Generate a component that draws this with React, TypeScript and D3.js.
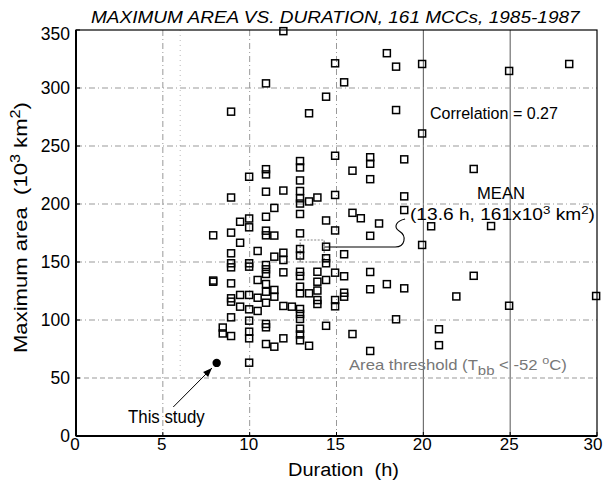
import React, { useLayoutEffect, useRef, useState } from "react";
import * as d3 from "d3";

// ---- data ----
const durationH: number[] = [
  7.9, 7.9, 7.9,
  8.45, 8.45,
  8.93, 8.93, 8.93, 8.93, 8.93, 8.93, 8.93, 8.93, 8.93, 8.93, 8.93,
  9.45, 9.45, 9.45, 9.45,
  9.97, 9.97, 9.97, 9.97, 9.97, 9.97, 9.97, 9.97, 9.97, 9.97, 9.97,
  10.46, 10.46, 10.46, 10.46,
  10.94, 10.94, 10.94, 10.94, 10.94, 10.94, 10.94, 10.94, 10.94, 10.94, 10.94, 10.94, 10.94, 10.94, 10.94, 10.94,
  11.42, 11.42, 11.42, 11.42, 11.42, 11.42,
  11.94, 11.94, 11.94, 11.94, 11.94, 11.94, 11.94,
  12.43,
  12.9, 12.9, 12.9, 12.9, 12.9, 12.9, 12.9, 12.9, 12.9, 12.9, 12.9, 12.9, 12.9, 12.9, 12.9, 12.9, 12.9, 12.9, 12.9, 12.9,
  13.42, 13.42, 13.42, 13.42,
  13.9, 13.9, 13.9, 13.9, 13.9, 13.9,
  14.4, 14.4, 14.4, 14.4, 14.4, 14.4, 14.4,
  14.92, 14.92, 14.92, 14.92, 14.92, 14.92, 14.92,
  15.44, 15.44, 15.44, 15.44, 15.44,
  15.92, 15.92, 15.92,
  16.4,
  16.94, 16.94, 16.94, 16.94, 16.94, 16.94, 16.94,
  17.45,
  17.9, 17.9,
  18.43, 18.43, 18.43,
  18.9, 18.9, 18.9, 18.9,
  19.93, 19.93, 19.93,
  20.45,
  20.9, 20.9,
  21.9,
  22.9, 22.9,
  23.9,
  24.94, 24.94,
  28.4,
  29.95,
];

const maxArea: number[] = [
  173, 134, 133,
  93.5, 88.4,
  279.6, 205.6, 175.3, 157.5, 148.9, 145.4, 131.6, 118.7, 115.8, 102.3, 86.2,
  184.7, 166.6, 121.6, 111.5,
  223.5, 187.5, 179.9, 148.9, 146, 121.6, 109.2, 99.4, 89.9, 84.2, 63.2,
  159.5, 134.5, 119.2, 107.8,
  304, 230, 225.5, 210.6, 189, 177, 173, 147.4, 143.7, 139.7, 131, 124.4, 114.9, 96.6, 93.7, 79.3,
  196.6, 172.8, 154.6, 125.9, 120.1, 77,
  349, 211.6, 158, 151.7, 141.1, 112.1, 84.2,
  111.5,
  237, 231.5, 220.3, 211.2, 204.9, 200.4, 191.4, 174.7, 161.2, 155.6, 141.6, 137.9, 128.7, 123, 109.5, 105.2, 100.9, 92.5, 87.5, 82.5,
  278.2, 202.2, 123, 77.8,
  205.6, 141.6, 133, 125.4, 117.2, 113.8,
  292.5, 185.8, 163.2, 153.2, 148.9, 134.5, 95,
  321.3, 241.6, 207.8, 177.2, 140.8, 117.2, 111.8,
  304.9, 156.7, 137.7, 123.5, 120.1,
  228.7, 192.4, 87.9,
  187.7,
  240.3, 234.7, 221.4, 172.6, 141.4, 126.5, 73.3,
  183.2,
  330, 130.9,
  318.4, 281, 100.6,
  238.5, 206.6, 194.8, 127.3,
  320.7, 260.8, 164.7,
  180.8,
  92, 78.3,
  120.3,
  230.2, 138.1,
  181,
  314.7, 112.3,
  320.7,
  120.7,
];

const xTicks: number[] = [0, 5, 10, 15, 20, 25, 30];
const yTicks: number[] = [0, 50, 100, 150, 200, 250, 300, 350];

const meanPoint: [number, number] = [13.6, 159.5];
const thisStudy: [number, number] = [8.1, 63];
const areaThreshold = 50;

// leader path from the mean marker to its label (data units)
const leaderStart: [number, number] = [14.29, 162.9];
const leaderCorner: [number, number] = [18.38, 162.9];
const leaderCurve: [number, number][] = [
  [18.95, 162.9], [19.07, 172.4], [18.61, 176.7],
  [18.26, 180.2], [18.43, 185.3], [18.95, 187],
];
const arrowFrom: [number, number] = [5.6, 25];
const arrowTo: [number, number] = [7.83, 58.6];

const W = 603;
const H = 482;
const FONT = "'Liberation Sans', Arial, Helvetica, sans-serif";

// text horizontally fitted to a measured width from the reference
function FitText(props: any) {
  const { x, y, width, fontSize, children, ...rest } = props;
  const ref = useRef<SVGTextElement>(null);
  const [s, setS] = useState(1);
  useLayoutEffect(() => {
    if (ref.current) {
      const w = ref.current.getBBox().width;
      if (w > 0) setS(width / w);
    }
  }, [width]);
  return (
    <g transform={`translate(${x},${y}) scale(${s},1)`}>
      <text ref={ref} x={0} y={0} fontSize={fontSize} style={{ whiteSpace: "pre" }} {...rest}>
        {children}
      </text>
    </g>
  );
}

export default function App() {
  const x = d3.scaleLinear().domain([0, 30]).range([76, 597]);
  const y = d3.scaleLinear().domain([0, 350]).range([436, 30]);
  const [x0, x1] = x.range();
  const [y0, y1] = y.range();

  const pts = durationH.map((d, i) => [d, maxArea[i]] as [number, number]);
  const boxSize = 7;

  const leaderPath =
    `M${x(leaderStart[0])},${y(leaderStart[1])} L${x(leaderCorner[0])},${y(leaderCorner[1])} ` +
    `C${leaderCurve.slice(0, 3).map((p) => `${x(p[0])},${y(p[1])}`).join(" ")} ` +
    `C${leaderCurve.slice(3, 6).map((p) => `${x(p[0])},${y(p[1])}`).join(" ")}`;

  const ax = x(arrowFrom[0]), ay = y(arrowFrom[1]);
  const bx = x(arrowTo[0]), by = y(arrowTo[1]);
  const ang = Math.atan2(by - ay, bx - ax);
  const hl = 9, hw = 3.5;
  const head = [
    [bx, by],
    [bx - hl * Math.cos(ang) + hw * Math.sin(ang), by - hl * Math.sin(ang) - hw * Math.cos(ang)],
    [bx - hl * Math.cos(ang) - hw * Math.sin(ang), by - hl * Math.sin(ang) + hw * Math.cos(ang)],
  ];

  return (
    <div style={{ position: "absolute", left: 0, top: 0 }}>
      <svg width={W} height={H} style={{ display: "block", background: "#fff" }} fontFamily={FONT}>
        {/* gridlines */}
        {xTicks.slice(1, -1).map((t) => (
          <line key={"gx" + t} x1={x(t)} x2={x(t)} y1={y1} y2={y0}
            stroke={t >= 20 ? "#555" : "#999"} strokeWidth={1}
            strokeDasharray={t >= 20 ? undefined : "6,3,1,3"} />
        ))}
        <line x1={x(6)} x2={x(6)} y1={y1} y2={y(areaThreshold)} stroke="#bbb" strokeWidth={1} strokeDasharray="1,4" />
        {yTicks.slice(1, -1).map((t) => (
          <line key={"gy" + t} x1={x0} x2={x1} y1={y(t)} y2={y(t)}
            stroke="#999" strokeWidth={1}
            strokeDasharray={t === areaThreshold ? "5,3" : "6,3,1,3"} />
        ))}

        {/* frame */}
        <rect x={x0} y={y1} width={x1 - x0} height={y0 - y1} fill="none" stroke="#000" strokeWidth={1.2} />
        <line x1={x0} x2={x0} y1={y1} y2={y0} stroke="#000" strokeWidth={2} />
        <line x1={x0} x2={x1} y1={y0} y2={y0} stroke="#000" strokeWidth={2} />

        {/* ticks */}
        {xTicks.map((t, i) => (
          <g key={"tx" + t}>
            <line x1={x(t)} x2={x(t)} y1={y0} y2={y0 - 4} stroke="#000" />
            <text x={i === xTicks.length - 1 ? W - 0.5 : x(t) - 1} y={y0 + 14} fontSize={17}
              textAnchor={i === xTicks.length - 1 ? "end" : "middle"}>{t}</text>
          </g>
        ))}
        {yTicks.map((t, i) => (
          <g key={"ty" + t}>
            <line x1={x0} x2={x0 + 4} y1={y(t)} y2={y(t)} stroke="#000" />
            <text x={70} y={y(t) + (i === yTicks.length - 1 ? 10 : 6.3)} fontSize={17.5} textAnchor="end">{t}</text>
          </g>
        ))}

        {/* mean marker and leader */}
        <rect x={x(meanPoint[0]) - 12} y={y(meanPoint[1]) - 11} width={24} height={22}
          fill="none" stroke="#888" strokeWidth={1.2} strokeDasharray="2,1.5" />
        <path d={leaderPath} fill="none" stroke="#000" strokeWidth={1.1} />

        {/* points */}
        {pts.map((p, i) => (
          <rect key={i} x={x(p[0]) - boxSize / 2} y={y(p[1]) - boxSize / 2}
            width={boxSize} height={boxSize} fill="none" stroke="#000" strokeWidth={1.5} />
        ))}

        {/* this study */}
        <circle cx={x(thisStudy[0])} cy={y(thisStudy[1])} r={4.2} fill="#000" />
        <line x1={ax} y1={ay} x2={bx} y2={by} stroke="#000" strokeWidth={1} />
        <polygon points={head.map((p) => p.join(",")).join(" ")} fill="#000" />
        <FitText x={128} y={423} width={77} fontSize={17.5}>This study</FitText>

        {/* annotations */}
        <FitText x={430} y={119} width={128} fontSize={16.5}>Correlation = 0.27</FitText>
        <FitText x={477} y={198.5} width={48} fontSize={16.5}>MEAN</FitText>
        <FitText x={410} y={220} width={185} fontSize={16.5}>
          (13.6 h, 161x10<tspan dy={-6} fontSize={11.5}>3</tspan>
          <tspan dy={6}> km</tspan>
          <tspan dy={-6} fontSize={11.5}>2</tspan>
          <tspan dy={6}>)</tspan>
        </FitText>
        <FitText x={349} y={370} width={218} fontSize={14.5} fill="#777">
          Area threshold (T<tspan dy={5} fontSize={13}>bb</tspan>
          <tspan dy={-5}> &lt; -52 </tspan>
          <tspan dy={-6} fontSize={11}>o</tspan>
          <tspan dy={6}>C)</tspan>
        </FitText>

        {/* title and axis labels */}
        <FitText x={91} y={23} width={490} fontSize={16.5} fontStyle="italic">
          MAXIMUM AREA VS. DURATION, 161 MCCs, 1985-1987
        </FitText>
        <FitText x={288} y={476} width={111} fontSize={19}>Duration  (h)</FitText>
        <g transform="translate(26.5, 353) rotate(-90)">
          <FitText x={0} y={0} width={251} fontSize={19}>
            Maximum area  (10<tspan dy={-7} fontSize={14}>3</tspan>
            <tspan dy={7}> km</tspan>
            <tspan dy={-7} fontSize={14}>2</tspan>
            <tspan dy={7}>)</tspan>
          </FitText>
        </g>
      </svg>
    </div>
  );
}
